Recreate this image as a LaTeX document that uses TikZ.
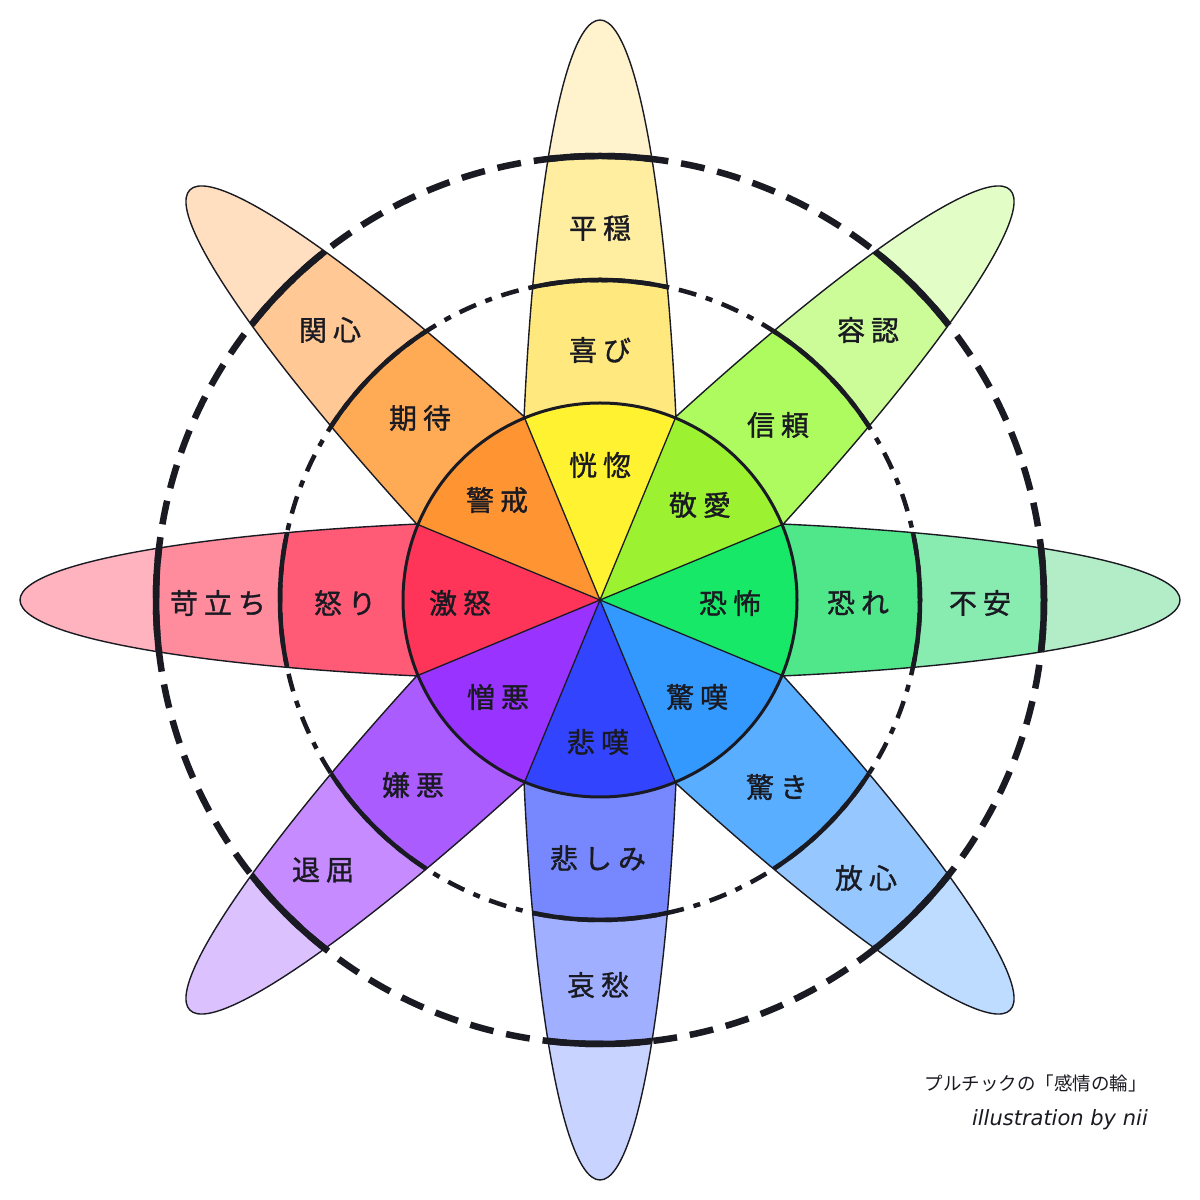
\documentclass[tikz,border=0pt]{standalone}
\usepackage{fontspec}
\newfontfamily\jp[FakeBold=1.2]{Noto Sans CJK JP}
\newfontfamily\jpcap{Noto Sans CJK JP}
\newfontfamily\lat{DejaVu Sans}
\newcommand\ksp{\kern6pt}
\definecolor{yelS}{HTML}{FFF231}\definecolor{yelA}{HTML}{FFE97F}\definecolor{yelB}{HTML}{FFEE9F}\definecolor{yelT}{HTML}{FFF3CE}
\definecolor{ygrS}{HTML}{9CF231}\definecolor{ygrA}{HTML}{ADFB5E}\definecolor{ygrB}{HTML}{CBFC98}\definecolor{ygrT}{HTML}{E2FDC5}
\definecolor{grnS}{HTML}{17E868}\definecolor{grnA}{HTML}{50E68A}\definecolor{grnB}{HTML}{88EBB0}\definecolor{grnT}{HTML}{B3EDC8}
\definecolor{bluS}{HTML}{3399FF}\definecolor{bluA}{HTML}{5AAEFF}\definecolor{bluB}{HTML}{96C8FF}\definecolor{bluT}{HTML}{BDDCFF}
\definecolor{dblS}{HTML}{3344FF}\definecolor{dblA}{HTML}{7788FF}\definecolor{dblB}{HTML}{A0AFFF}\definecolor{dblT}{HTML}{C9D3FF}
\definecolor{purS}{HTML}{9933FF}\definecolor{purA}{HTML}{AA5CFF}\definecolor{purB}{HTML}{C68CFF}\definecolor{purT}{HTML}{DBC2FF}
\definecolor{redS}{HTML}{FE3458}\definecolor{redA}{HTML}{FF5B77}\definecolor{redB}{HTML}{FF8C9D}\definecolor{redT}{HTML}{FFB3BE}
\definecolor{oraS}{HTML}{FF9433}\definecolor{oraA}{HTML}{FFAA55}\definecolor{oraB}{HTML}{FFC895}\definecolor{oraT}{HTML}{FFDFC0}
\definecolor{ink}{HTML}{1A1A22}
\tikzset{
  lab/.style={font=\jp\fontsize{28}{30}\selectfont, inner sep=0pt, text=ink},
  petaledge/.style={draw=ink, line width=1.4pt},
  midring/.style={draw=ink, line width=4.5pt},
  outring/.style={draw=ink, line width=6.5pt},
}
\begin{document}
\begin{tikzpicture}[x=1pt,y=1pt]
\useasboundingbox (0,0) rectangle (1200,1200);
\fill[white] (0,0) rectangle (1200,1200);
% petals
\foreach \ang/\nm in {90/yel,45/ygr,0/grn,-45/blu,-90/dbl,-135/pur,180/red,135/ora}{
  \begin{scope}[shift={(600,600)}, rotate=\ang]
    \begin{scope}
      \clip (0,-90) rectangle (600,90);
      \clip (0,0) ellipse [x radius=580, y radius=80];
      \fill[\nm T] (0,0) circle[radius=600];
      \fill[\nm B] (0,0) circle[radius=444];
      \fill[\nm A] (0,0) circle[radius=320];
      \draw[midring] (0,0) circle[radius=320];
      \draw[outring] (0,0) circle[radius=444];
    \end{scope}
    \draw[petaledge] (0,-80) arc[start angle=-90, end angle=90, x radius=580, y radius=80];
  \end{scope}
}
% dashed rings
\draw[midring, dash pattern=on 18pt off 10pt on 7pt off 10pt] (600,600) circle[radius=320];
\draw[outring, dash pattern=on 24pt off 13pt] (600,600) circle[radius=444];
% sectors
\foreach \ang/\nm in {90/yel,45/ygr,0/grn,-45/blu,-90/dbl,-135/pur,180/red,135/ora}{
  \fill[\nm S] (600,600) -- ++(\ang-22.5:197) arc[start angle=\ang-22.5, end angle=\ang+22.5, radius=197] -- cycle;
}
\foreach \ang in {90,45,0,-45,-90,-135,180,135}{
  \draw[ink, line width=1.3pt] (600,600) -- ++(\ang+22.5:197);
}
\draw[ink, line width=3pt] (600,600) circle[radius=197];
% labels
\node[lab] (heion) at (600,972) {平\ksp 穏};
\node[lab] (yorokobi) at (600,850) {喜\ksp び};
\node[lab] (kokotsu) at (600,735) {恍\ksp 惚};
\node[lab] (younin) at (868,870) {容\ksp 認};
\node[lab] (shinrai) at (778,775) {信\ksp 頼};
\node[lab] (keiai) at (700,695) {敬\ksp 愛};
\node[lab] (fuan) at (980,597) {不\ksp 安};
\node[lab] (osore) at (858,597) {恐\ksp れ};
\node[lab] (kyoufu) at (730,597) {恐\ksp 怖};
\node[lab] (houshin) at (866,322) {放\ksp 心};
\node[lab] (odoroki) at (777,413) {驚\ksp き};
\node[lab] (kyoutan) at (697,503) {驚\ksp 嘆};
\node[lab] (aishuu) at (598,215) {哀\ksp 愁};
\node[lab] (kanashimi) at (598,342) {悲\ksp し\ksp み};
\node[lab] (hitan) at (598,458) {悲\ksp 嘆};
\node[lab] (taikutsu) at (323,330) {退\ksp 屈};
\node[lab] (ken-o) at (413,415) {嫌\ksp 悪};
\node[lab] (zouo) at (498,503) {憎\ksp 悪};
\node[lab] (iradachi) at (218,597) {苛\ksp 立\ksp ち};
\node[lab] (ikari) at (345,597) {怒\ksp り};
\node[lab] (gekido) at (460,597) {激\ksp 怒};
\node[lab] (kanshin) at (330,870) {関\ksp 心};
\node[lab] (kitai) at (420,782) {期\ksp 待};
\node[lab] (keikai) at (497,700) {警\ksp 戒};
% caption
\node[font=\jpcap\fontsize{18.5}{20}\selectfont, text=ink, anchor=east, inner sep=0pt] (cap1) at (1147,117) {プルチックの「感情の輪」};
\node[font=\lat\itshape\fontsize{21}{23}\selectfont, text=ink, anchor=east, inner sep=0pt] (cap2) at (1148,80) {illustration by nii};
\end{tikzpicture}
\end{document}
